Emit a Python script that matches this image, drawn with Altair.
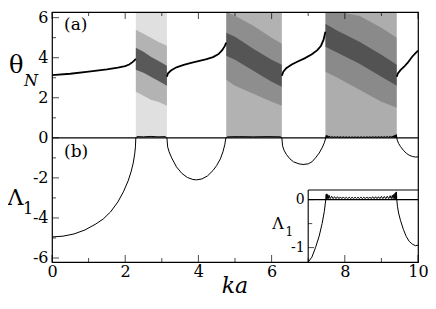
import altair as alt
import pandas as pd

SERIF = "DejaVu Serif, Liberation Serif, serif"

# ---------------- values ----------------
# theta_N in the periodic windows (solid curve), one list per window
TH_KA_1 = [0.0, 0.5, 1.0, 1.5, 1.8, 2.0, 2.11, 2.2, 2.26, 2.29]
TH_VAL_1 = [3.13, 3.2, 3.31, 3.42, 3.5, 3.58, 3.66, 3.78, 3.88, 3.95]
TH_KA_2 = [3.14, 3.17, 3.25, 3.4, 3.6, 3.8, 4.0, 4.2, 4.4, 4.55, 4.65, 4.72, 4.76]
TH_VAL_2 = [3.05, 3.22, 3.36, 3.52, 3.64, 3.74, 3.83, 3.92, 4.03, 4.18, 4.38, 4.58, 4.75]
TH_KA_3 = [6.28, 6.32, 6.4, 6.55, 6.7, 6.9, 7.1, 7.25, 7.35, 7.42, 7.47]
TH_VAL_3 = [3.1, 3.3, 3.48, 3.66, 3.8, 3.97, 4.17, 4.38, 4.6, 4.9, 5.3]
TH_KA_4 = [9.42, 9.45, 9.52, 9.62, 9.72, 9.84, 9.92, 10.0]
TH_VAL_4 = [3.05, 3.22, 3.38, 3.55, 3.75, 4.05, 4.2, 4.35]

# chaotic windows of theta_N: shaded bands (outer = whole range, mid, dense core)
WIN_KA = [[2.29, 2.5, 2.7, 2.9, 3.14],
          [4.76, 5.0, 5.5, 6.0, 6.28],
          [7.47, 7.8, 8.4, 9.0, 9.42]]
WIN_MID_LO = [[2.3, 2.1, 1.9, 1.8, 1.6], [2.9, 2.6, 2.2, 1.8, 1.6], [3.3, 3.0, 2.4, 1.8, 1.5]]
WIN_MID_HI = [[5.4, 5.2, 5.0, 4.8, 4.6], [6.28, 6.1, 5.6, 5.0, 4.7], [6.28, 6.28, 6.1, 5.5, 5.0]]
WIN_CORE_LO = [[3.4, 3.25, 3.05, 2.85, 2.6], [4.1, 3.9, 3.35, 2.8, 2.55], [4.55, 4.25, 3.7, 3.05, 2.6]]
WIN_CORE_HI = [[4.5, 4.3, 4.05, 3.85, 3.6], [5.25, 5.05, 4.45, 3.9, 3.65], [5.7, 5.35, 4.8, 4.15, 3.65]]
WIN_SHADE = [[0.12, 0.2, 0.5], [0.3, 0.2, 0.4], [0.32, 0.2, 0.4]]  # outer, mid, core
THETA_MAX = 6.2832

# Lyapunov exponent Lambda_1
LAM_KA_1 = [0.0, 0.3, 0.6, 0.9, 1.2, 1.4, 1.6, 1.8, 1.95, 2.08, 2.16, 2.22, 2.26, 2.28, 2.29]
LAM_VAL_1 = [-4.95, -4.91, -4.8, -4.6, -4.3, -4.05, -3.7, -3.2, -2.7, -2.15, -1.7, -1.25, -0.8, -0.45, 0.0]
LAM_KA_C1 = [2.32, 2.5, 2.7, 2.9, 3.1, 3.13]
LAM_VAL_C1 = [0.06, 0.05, 0.07, 0.05, 0.06, 0.0]
LAM_KA_2 = [3.14, 3.16, 3.2, 3.27, 3.4, 3.55, 3.7, 3.85, 3.95, 4.1, 4.25, 4.4, 4.5, 4.6, 4.67, 4.72, 4.75]
LAM_VAL_2 = [0.0, -0.45, -0.7, -1.0, -1.45, -1.78, -1.98, -2.08, -2.1, -2.05, -1.9, -1.63, -1.38, -1.05, -0.7, -0.35, 0.0]
LAM_KA_C2 = [4.8, 5.1, 5.5, 5.9, 6.25, 6.27]
LAM_VAL_C2 = [0.05, 0.06, 0.05, 0.06, 0.05, 0.0]
LAM_KA_3 = [6.28, 6.3, 6.34, 6.4, 6.5, 6.6, 6.75, 6.86, 7.0, 7.1, 7.2, 7.3, 7.38, 7.44, 7.48]
LAM_VAL_3 = [0.0, -0.4, -0.62, -0.82, -1.05, -1.2, -1.3, -1.33, -1.3, -1.2, -1.0, -0.76, -0.5, -0.25, 0.0]
LAM_KA_C3 = [7.49, 7.50, 7.51, 7.52, 7.535, 7.55, 7.57,
             7.60, 7.64, 7.68, 7.72, 7.76, 7.80, 7.84, 7.88, 7.92, 7.96,
             8.00, 8.04, 8.08, 8.12, 8.16, 8.20, 8.24, 8.28, 8.32, 8.36,
             8.40, 8.44, 8.48, 8.52, 8.56, 8.60, 8.64, 8.68, 8.72, 8.76,
             8.80, 8.84, 8.88, 8.92, 8.96, 9.00, 9.04, 9.08, 9.12, 9.16,
             9.20, 9.24, 9.27, 9.30, 9.32, 9.34, 9.36, 9.37, 9.385, 9.395, 9.405, 9.412, 9.418]
LAM_VAL_C3 = [0.11, 0.01, 0.12, 0.02, 0.10, 0.02, 0.09,
              0.02, 0.07, 0.02, 0.06, 0.02, 0.06, 0.02, 0.055, 0.02, 0.055,
              0.02, 0.05, 0.02, 0.05, 0.02, 0.05, 0.02, 0.05, 0.02, 0.05,
              0.02, 0.05, 0.02, 0.05, 0.02, 0.055, 0.02, 0.055, 0.02, 0.06,
              0.02, 0.06, 0.02, 0.06, 0.02, 0.065, 0.02, 0.065, 0.02, 0.07,
              0.02, 0.08, 0.02, 0.09, 0.02, 0.11, 0.02, 0.13, 0.02, 0.15, 0.02, 0.16, 0.01]
LAM_KA_4 = [9.42, 9.44, 9.47, 9.52, 9.6, 9.68, 9.76, 9.85, 9.93, 10.0]
LAM_VAL_4 = [0.0, -0.15, -0.28, -0.43, -0.62, -0.77, -0.87, -0.93, -0.96, -0.95]

# axes / ticks
X_DOM = [0, 10]
Y_DOM = [-6.2, THETA_MAX]
X_MAJOR = [0, 2, 4, 6, 8, 10]
X_MINOR = [1, 3, 5, 7, 9]
Y_MAJOR = [-6, -4, -2, 0, 2, 4, 6]
Y_MINOR = [-5, -3, -1, 1, 3, 5]
INSET_X = [7, 10]
INSET_Y = [-1.3, 0.2]
INSET_MAJOR = [0, -1]
INSET_MINOR = [-0.5]

# ---------------- layout ----------------
W, H = 366, 250
INSET_H = 72
PAD = {"left": 44, "top": 4, "right": 10, "bottom": 37}

XS = alt.Scale(domain=X_DOM, nice=False, zero=False)
YS = alt.Scale(domain=Y_DOM, nice=False, zero=False)
YIS = alt.Scale(domain=INSET_Y, range=[H, H - INSET_H], nice=False, zero=False)

common_axis = dict(ticks=False, tickSize=0, domain=False, grid=False, labelFont=SERIF,
                   labelColor="black", labelFlush=False, labelOverlap=False,
                   labelExpr="toString(datum.value)", title=None)
XAX = alt.Axis(values=X_MAJOR, labelFontSize=16, labelPadding=1, **common_axis)
YAX = alt.Axis(values=Y_MAJOR, labelFontSize=16, labelPadding=4, **common_axis)
YIAX = alt.Axis(values=INSET_MAJOR, orient="left", labelFontSize=14, labelPadding=4,
                offset=-W * (INSET_X[0] - X_DOM[0]) / (X_DOM[1] - X_DOM[0]), **common_axis)


def X(f):
    return alt.X(f, type="quantitative", scale=XS, axis=XAX)


def Y(f):
    return alt.Y(f, type="quantitative", scale=YS, axis=YAX)


def YI(f):
    return alt.Y(f, type="quantitative", scale=YIS, axis=YIAX)


# ---------------- tables ----------------
cloud_rows = []
for w in range(3):
    ka = WIN_KA[w]
    bands = [
        ("outer", [ka[0], ka[-1]], [0.0, 0.0], [THETA_MAX, THETA_MAX], WIN_SHADE[w][0]),
        ("mid", ka, WIN_MID_LO[w], WIN_MID_HI[w], WIN_SHADE[w][1]),
        ("core", ka, WIN_CORE_LO[w], WIN_CORE_HI[w], WIN_SHADE[w][2]),
    ]
    for name, kk, lo, hi, op in bands:
        for k, a, b in zip(kk, lo, hi):
            cloud_rows.append({"grp": f"{w}-{name}", "ka": k, "lo": a, "hi": b, "op": op})
cloud = pd.DataFrame(cloud_rows)

theta_rows = []
for s, (kk, vv) in enumerate([(TH_KA_1, TH_VAL_1), (TH_KA_2, TH_VAL_2),
                              (TH_KA_3, TH_VAL_3), (TH_KA_4, TH_VAL_4)]):
    for k, v in zip(kk, vv):
        theta_rows.append({"seg": s, "ka": k, "theta": v})
theta = pd.DataFrame(theta_rows)

lam = pd.DataFrame({
    "ka": LAM_KA_1 + LAM_KA_C1 + LAM_KA_2 + LAM_KA_C2 + LAM_KA_3 + LAM_KA_C3 + LAM_KA_4,
    "lam": LAM_VAL_1 + LAM_VAL_C1 + LAM_VAL_2 + LAM_VAL_C2 + LAM_VAL_3 + LAM_VAL_C3 + LAM_VAL_4,
})

# ---------------- main layers ----------------
clouds = alt.Chart(cloud).mark_area(color="black", interpolate="linear").encode(
    x=X("ka"), y=Y("lo"), y2=alt.Y2("hi"),
    opacity=alt.Opacity("op:Q", scale=None), detail=alt.Detail("grp:N"))

theta_line = alt.Chart(theta).mark_line(color="black", strokeWidth=1.8).encode(
    x=X("ka"), y=Y("theta"), detail=alt.Detail("seg:N"))

lam_line = alt.Chart(lam).mark_line(color="black", strokeWidth=1).encode(
    x=X("ka"), y=Y("lam"))

zero_rule = alt.Chart(pd.DataFrame({"x": [X_DOM[0]], "x2": [X_DOM[1]], "y": [0]})).mark_rule(
    color="black", strokeWidth=1.2).encode(x=X("x"), x2=alt.X2("x2"), y=Y("y"))


def vticks(values, size, y_at, down):
    df = pd.DataFrame({"v": values, "y0": [y_at] * len(values)})
    return alt.Chart(df).mark_tick(orient="vertical", size=size, thickness=1, color="black",
                                   yOffset=(size / 2 if down else -size / 2)).encode(
        x=X("v"), y=Y("y0"))


def hticks(values, size, x_at, yfun):
    df = pd.DataFrame({"v": values, "x0": [x_at] * len(values)})
    return alt.Chart(df).mark_tick(orient="horizontal", size=size, thickness=1, color="black",
                                   xOffset=size / 2).encode(x=X("x0"), y=yfun("v"))


ticks = [
    vticks(X_MAJOR, 7, Y_DOM[0], False), vticks(X_MINOR, 4, Y_DOM[0], False),
    vticks(X_MAJOR, 7, Y_DOM[1], True), vticks(X_MINOR, 4, Y_DOM[1], True),
    hticks(Y_MAJOR, 7, X_DOM[0], Y), hticks(Y_MINOR, 4, X_DOM[0], Y),
]


def txt(df, size, style="normal", align="left", baseline="middle"):
    return alt.Chart(df).mark_text(font=SERIF, fontSize=size, fontStyle=style, align=align,
                                   baseline=baseline, color="black")


panel_labels = txt(pd.DataFrame({"ka": [0.33, 0.33], "y": [5.64, -0.73], "t": ["(a)", "(b)"]}), 17).encode(
    x=X("ka"), y=Y("y"), text="t:N")
theta_title = txt(pd.DataFrame({"y": [3.57], "t": ["θ"]}), 24).encode(
    x=alt.value(-43), y=Y("y"), text="t:N")
theta_sub = txt(pd.DataFrame({"y": [2.84], "t": ["N"]}), 16, style="italic").encode(
    x=alt.value(-28), y=Y("y"), text="t:N")
lam_title = txt(pd.DataFrame({"y": [-2.98], "t": ["Λ"]}), 22).encode(
    x=alt.value(-44.5), y=Y("y"), text="t:N")
lam_sub = txt(pd.DataFrame({"y": [-3.55], "t": ["1"]}), 16).encode(
    x=alt.value(-29), y=Y("y"), text="t:N")
ka_title = txt(pd.DataFrame({"ka": [5.0], "t": ["ka"]}), 22, style="italic", align="center",
               baseline="alphabetic").encode(x=X("ka"), y=alt.value(281), text="t:N")

main = alt.layer(clouds, theta_line, lam_line, zero_rule, *ticks,
                 panel_labels, theta_title, theta_sub, lam_title, lam_sub, ka_title)

# ---------------- inset ----------------
inset_line = alt.Chart(lam).transform_filter(alt.datum.ka >= INSET_X[0]).mark_line(
    color="black", strokeWidth=1).encode(x=X("ka"), y=YI("lam"))
inset_h = alt.Chart(pd.DataFrame({"x": [INSET_X[0], INSET_X[0]], "x2": [INSET_X[1], INSET_X[1]],
                                  "y": [0, INSET_Y[1]]})).mark_rule(color="black", strokeWidth=1.1).encode(
    x=X("x"), x2=alt.X2("x2"), y=YI("y"))
inset_v = alt.Chart(pd.DataFrame({"x": [INSET_X[0]], "y": [INSET_Y[0]], "y2": [INSET_Y[1]]})).mark_rule(
    color="black", strokeWidth=1.1).encode(x=X("x"), y=YI("y"), y2=alt.Y2("y2"))
inset_ticks = [hticks(INSET_MAJOR, 6, INSET_X[0], YI), hticks(INSET_MINOR, 4, INSET_X[0], YI)]
inset_title = txt(pd.DataFrame({"ka": [6.02], "y": [-0.5], "t": ["Λ"]}), 16).encode(
    x=X("ka"), y=YI("y"), text="t:N")
inset_sub = txt(pd.DataFrame({"ka": [6.38], "y": [-0.68], "t": ["1"]}), 12).encode(
    x=X("ka"), y=YI("y"), text="t:N")

inset = alt.layer(inset_line, inset_h, inset_v, *inset_ticks, inset_title, inset_sub)

chart = alt.layer(main, inset).resolve_scale(y="independent").properties(
    width=W, height=H, autosize=alt.AutoSizeParams(type="none"), padding=PAD,
    background="white",
).configure_view(stroke="black", strokeWidth=1.2)

chart.save("out.html", embed_options={"renderer": "svg", "actions": False})
